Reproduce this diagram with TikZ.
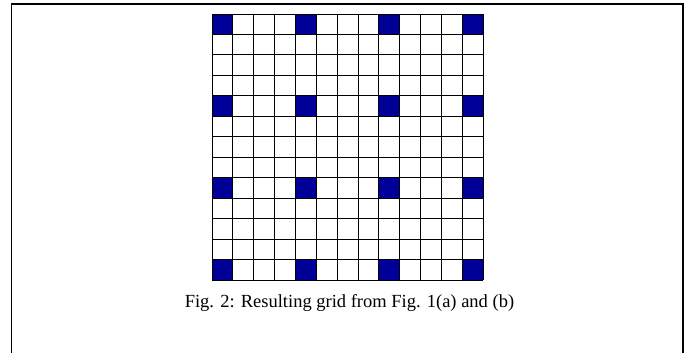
\documentclass[tikz,border=0pt]{standalone}
\usepackage{fontspec}
\setmainfont{Liberation Serif}
\definecolor{cellblue}{RGB}{0,0,153}
\begin{document}
\begin{tikzpicture}[x=1pt,y=1pt]
  \useasboundingbox (0,0) rectangle (699,353);

  %–– Frame ––
  \draw[black, line width=1.5pt] (11.5,-2) -- (11.5,349) -- (683,349) -- (683,-2);

  %–– Grid ––
  \begin{scope}[shift={(212,73)}, x=20.85pt, y=20.46pt]
    % blue cells
    \foreach \i in {0,4,8,12}
      \foreach \j in {0,4,8,12}
        \fill[cellblue] (\i,\j) rectangle ++(1,1);
    % lines
    \foreach \k in {0,...,13} {
      \draw[black, line width=0.9pt] (\k,0) -- (\k,13);
      \draw[black, line width=0.9pt] (0,\k) -- (13,\k);
    }
  \end{scope}

  %–– Caption ––
  \node[font=\fontsize{18.5}{21}\selectfont] (caption) at (349.5,50) {Fig. 2: Resulting grid from Fig. 1(a) and (b)};
\end{tikzpicture}
\end{document}
